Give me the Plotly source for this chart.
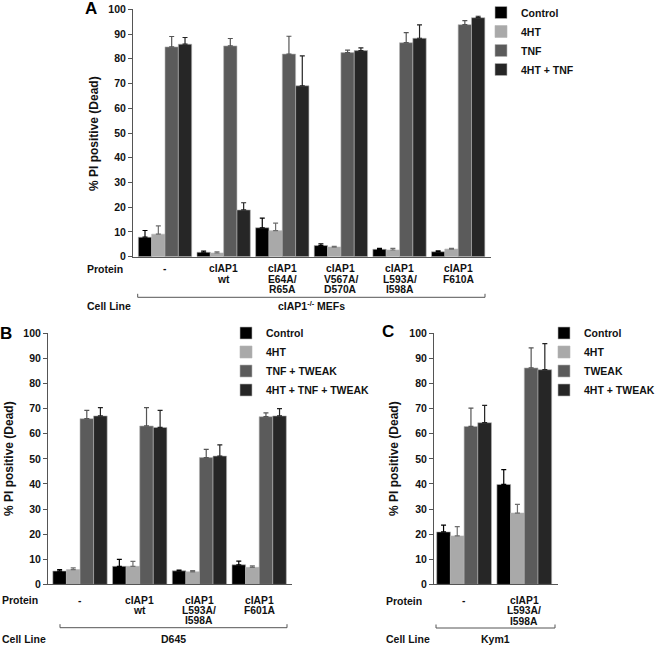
import plotly.graph_objects as go

W, H = 656, 646


def px(x):
    return x / W


def py(y):
    return 1 - y / H


# ---------------- data ----------------
colors = ["#000000", "#a9a9a9", "#5b5b5b", "#262626"]
err_colors = ["#000000", "#6e6e6e", "#555555", "#222222"]

# Panel A
series_A = ["Control", "4HT", "TNF", "4HT + TNF"]
proteins_A = ["-", "cIAP1\nwt", "cIAP1\nE64A/\nR65A", "cIAP1\nV567A/\nD570A",
              "cIAP1\nL593A/\nI598A", "cIAP1\nF610A"]
control_A = [7.9, 1.8, 11.7, 4.5, 3.0, 2.0]
control_A_err = [2.7, 0.5, 3.9, 0.7, 0.4, 0.4]
hht_A = [9.1, 1.5, 10.5, 3.9, 2.7, 3.1]
hht_A_err = [3.4, 0.5, 3.1, 0.3, 0.7, 0.3]
tnf_A = [84.8, 85.2, 81.9, 82.5, 86.5, 93.8]
tnf_A_err = [4.2, 3.0, 7.2, 1.0, 4.1, 1.6]
hht_tnf_A = [85.9, 18.9, 69.1, 83.3, 88.3, 96.6]
hht_tnf_A_err = [2.7, 2.9, 12.1, 1.1, 5.4, 0.6]
cell_line_A = "cIAP1<sup>-/-</sup> MEFs"

# Panel B
series_B = ["Control", "4HT", "TNF + TWEAK", "4HT + TNF + TWEAK"]
proteins_B = ["-", "cIAP1\nwt", "cIAP1\nL593A/\nI598A", "cIAP1\nF601A"]
control_B = [5.3, 7.2, 5.4, 7.8]
control_B_err = [0.6, 2.8, 0.3, 1.5]
hht_B = [5.9, 7.2, 5.0, 6.8]
hht_B_err = [0.7, 2.0, 0.5, 0.6]
tt_B = [66.0, 63.1, 50.5, 66.8]
tt_B_err = [3.3, 7.3, 3.3, 1.5]
hht_tt_B = [67.1, 62.5, 51.1, 67.1]
hht_tt_B_err = [3.3, 6.8, 4.5, 2.9]
cell_line_B = "D645"

# Panel C
series_C = ["Control", "4HT", "TWEAK", "4HT + TWEAK"]
proteins_C = ["-", "cIAP1\nL593A/\nI598A"]
control_C = [20.9, 39.8]
control_C_err = [2.7, 5.9]
hht_C = [19.3, 28.4]
hht_C_err = [3.7, 3.5]
tweak_C = [62.9, 86.2]
tweak_C_err = [7.3, 8.0]
hht_tweak_C = [64.4, 85.5]
hht_tweak_C_err = [6.9, 10.4]
cell_line_C = "Kym1"

y_ticks = list(range(0, 101, 10))

FONT = "Liberation Sans, Arial, sans-serif"
AXC = "#555555"
TXT = "#111111"

panels = [
    dict(name="A", xa="x", ya="y", legend="legend", series=series_A, cats=proteins_A,
         vals=[control_A, hht_A, tnf_A, hht_tnf_A],
         errs=[control_A_err, hht_A_err, tnf_A_err, hht_tnf_A_err],
         cell=cell_line_A,
         xdom=(133, 491), ydom=(256.7, 9.3), xr=(-0.546, 5.56),
         lab_y=269, prot_x=85, cell_y=306, brk=(137.7, 485, 297.3),
         ytitle=(94, 133), letter=(91, 8), leg=(481, -2)),
    dict(name="B", xa="x2", ya="y2", legend="legend2", series=series_B, cats=proteins_B,
         vals=[control_B, hht_B, tt_B, hht_tt_B],
         errs=[control_B_err, hht_B_err, tt_B_err, hht_tt_B_err],
         cell=cell_line_B,
         xdom=(48, 292), ydom=(584.4, 333.3), xr=(-0.536, 3.55),
         lab_y=600, prot_x=0, cell_y=639, brk=(60, 287, 627.7),
         ytitle=(9, 459), letter=(6, 333), leg=(226, 318.5)),
    dict(name="C", xa="x3", ya="y3", legend="legend3", series=series_C, cats=proteins_C,
         vals=[control_C, hht_C, tweak_C, hht_tweak_C],
         errs=[control_C_err, hht_C_err, tweak_C_err, hht_tweak_C_err],
         cell=cell_line_C,
         xdom=(434, 558), ydom=(584.4, 333.3), xr=(-0.5, 1.56),
         lab_y=600.5, prot_x=384, cell_y=639, brk=(436, 555, 628),
         ytitle=(394, 459), letter=(388, 331.5), leg=(544, 318.5)),
]

fig = go.Figure()
annotations = []
shapes = []
layout_axes = {}

for k, p in enumerate(panels):
    xs = list(range(len(p["cats"])))
    for s, name in enumerate(p["series"]):
        fig.add_trace(go.Bar(
            x=xs, y=p["vals"][s], name=name,
            xaxis=p["xa"], yaxis=p["ya"], legend=p["legend"],
            legendgroup=p["name"] + str(s),
            marker=dict(color=colors[s], line=dict(color="#b5b5b5", width=0.6)),
            error_y=dict(type="data", symmetric=False, array=p["errs"][s],
                         arrayminus=[0] * len(xs), color=err_colors[s],
                         thickness=1.2, width=2.5),
        ))
    sfx = "" if k == 0 else str(k + 1)
    layout_axes["xaxis" + sfx] = dict(
        domain=[px(p["xdom"][0]), px(p["xdom"][1])], range=list(p["xr"]),
        anchor="y" + sfx, showline=True, linecolor=AXC, linewidth=1,
        ticks="", showticklabels=False, showgrid=False, zeroline=False,
        automargin=False)
    layout_axes["yaxis" + sfx] = dict(
        domain=[py(p["ydom"][0]), py(p["ydom"][1])], range=[0, 100],
        anchor="x" + sfx, showline=True, linecolor=AXC, linewidth=1,
        ticks="outside", ticklen=4, tickcolor=AXC, tickvals=y_ticks,
        tickfont=dict(family=FONT, size=10.5, color=TXT, weight="bold"),
        showgrid=False, zeroline=False, automargin=False)

    # category labels (one annotation per line)
    for i, cat in enumerate(p["cats"]):
        for j, line in enumerate(cat.split("\n")):
            annotations.append(dict(
                x=i, xref=p["xa"], y=py(p["lab_y"] + j * 10.3), yref="paper",
                text=line, showarrow=False, xanchor="center", yanchor="middle",
                font=dict(family=FONT, size=10.3, color=TXT, weight="bold")))
    annotations.append(dict(
        x=px(p["prot_x"]), xref="paper", y=py(p["lab_y"]), yref="paper",
        text="Protein", showarrow=False, xanchor="left", yanchor="middle",
        font=dict(family=FONT, size=10.5, color=TXT, weight="bold")))
    annotations.append(dict(
        x=px(p["prot_x"]), xref="paper", y=py(p["cell_y"]), yref="paper",
        text="Cell Line", showarrow=False, xanchor="left", yanchor="middle",
        font=dict(family=FONT, size=10.5, color=TXT, weight="bold")))
    bx0, bx1, by = p["brk"]
    annotations.append(dict(
        x=px((bx0 + bx1) / 2), xref="paper", y=py(p["cell_y"]), yref="paper",
        text=p["cell"], showarrow=False, xanchor="center", yanchor="middle",
        font=dict(family=FONT, size=10.5, color=TXT, weight="bold")))
    shapes.append(dict(
        type="path", xref="paper", yref="paper",
        path=f"M{px(bx0)},{py(by - 3.5)} L{px(bx0)},{py(by)} L{px(bx1)},{py(by)} L{px(bx1)},{py(by - 3.5)}",
        line=dict(color=AXC, width=1)))
    # y axis title
    annotations.append(dict(
        x=px(p["ytitle"][0]), xref="paper", y=py(p["ytitle"][1]), yref="paper",
        text="% PI positive (Dead)", textangle=-90, showarrow=False,
        xanchor="center", yanchor="middle",
        font=dict(family=FONT, size=12, color=TXT, weight="bold")))
    # panel letter
    annotations.append(dict(
        x=px(p["letter"][0]), xref="paper", y=py(p["letter"][1]), yref="paper",
        text=p["name"], showarrow=False, xanchor="center", yanchor="middle",
        font=dict(family=FONT, size=17, color="#000", weight="bold")))

legend_common = dict(xanchor="left", yanchor="top", bgcolor="rgba(0,0,0,0)",
                     borderwidth=0,
                     font=dict(family=FONT, size=10.5, color=TXT, weight="bold"),
                     tracegroupgap=0, traceorder="normal")

layout_legends = {}
for k, p in enumerate(panels):
    key = "legend" if k == 0 else "legend" + str(k + 1)
    layout_legends[key] = dict(x=px(p["leg"][0]), y=py(p["leg"][1]), **legend_common)

fig.update_layout(
    template="none",
    width=W, height=H, margin=dict(l=0, r=0, t=0, b=0, pad=0, autoexpand=False),
    paper_bgcolor="white", plot_bgcolor="white",
    barmode="group", bargap=0.09, bargroupgap=0,
    showlegend=True, annotations=annotations, shapes=shapes,
    **layout_axes, **layout_legends)

fig.write_html(
    "out.html",
    config={"displayModeBar": False},
    post_script="document.body.style.margin='0';document.body.style.padding='0';"
                "document.documentElement.style.overflow='hidden';")
